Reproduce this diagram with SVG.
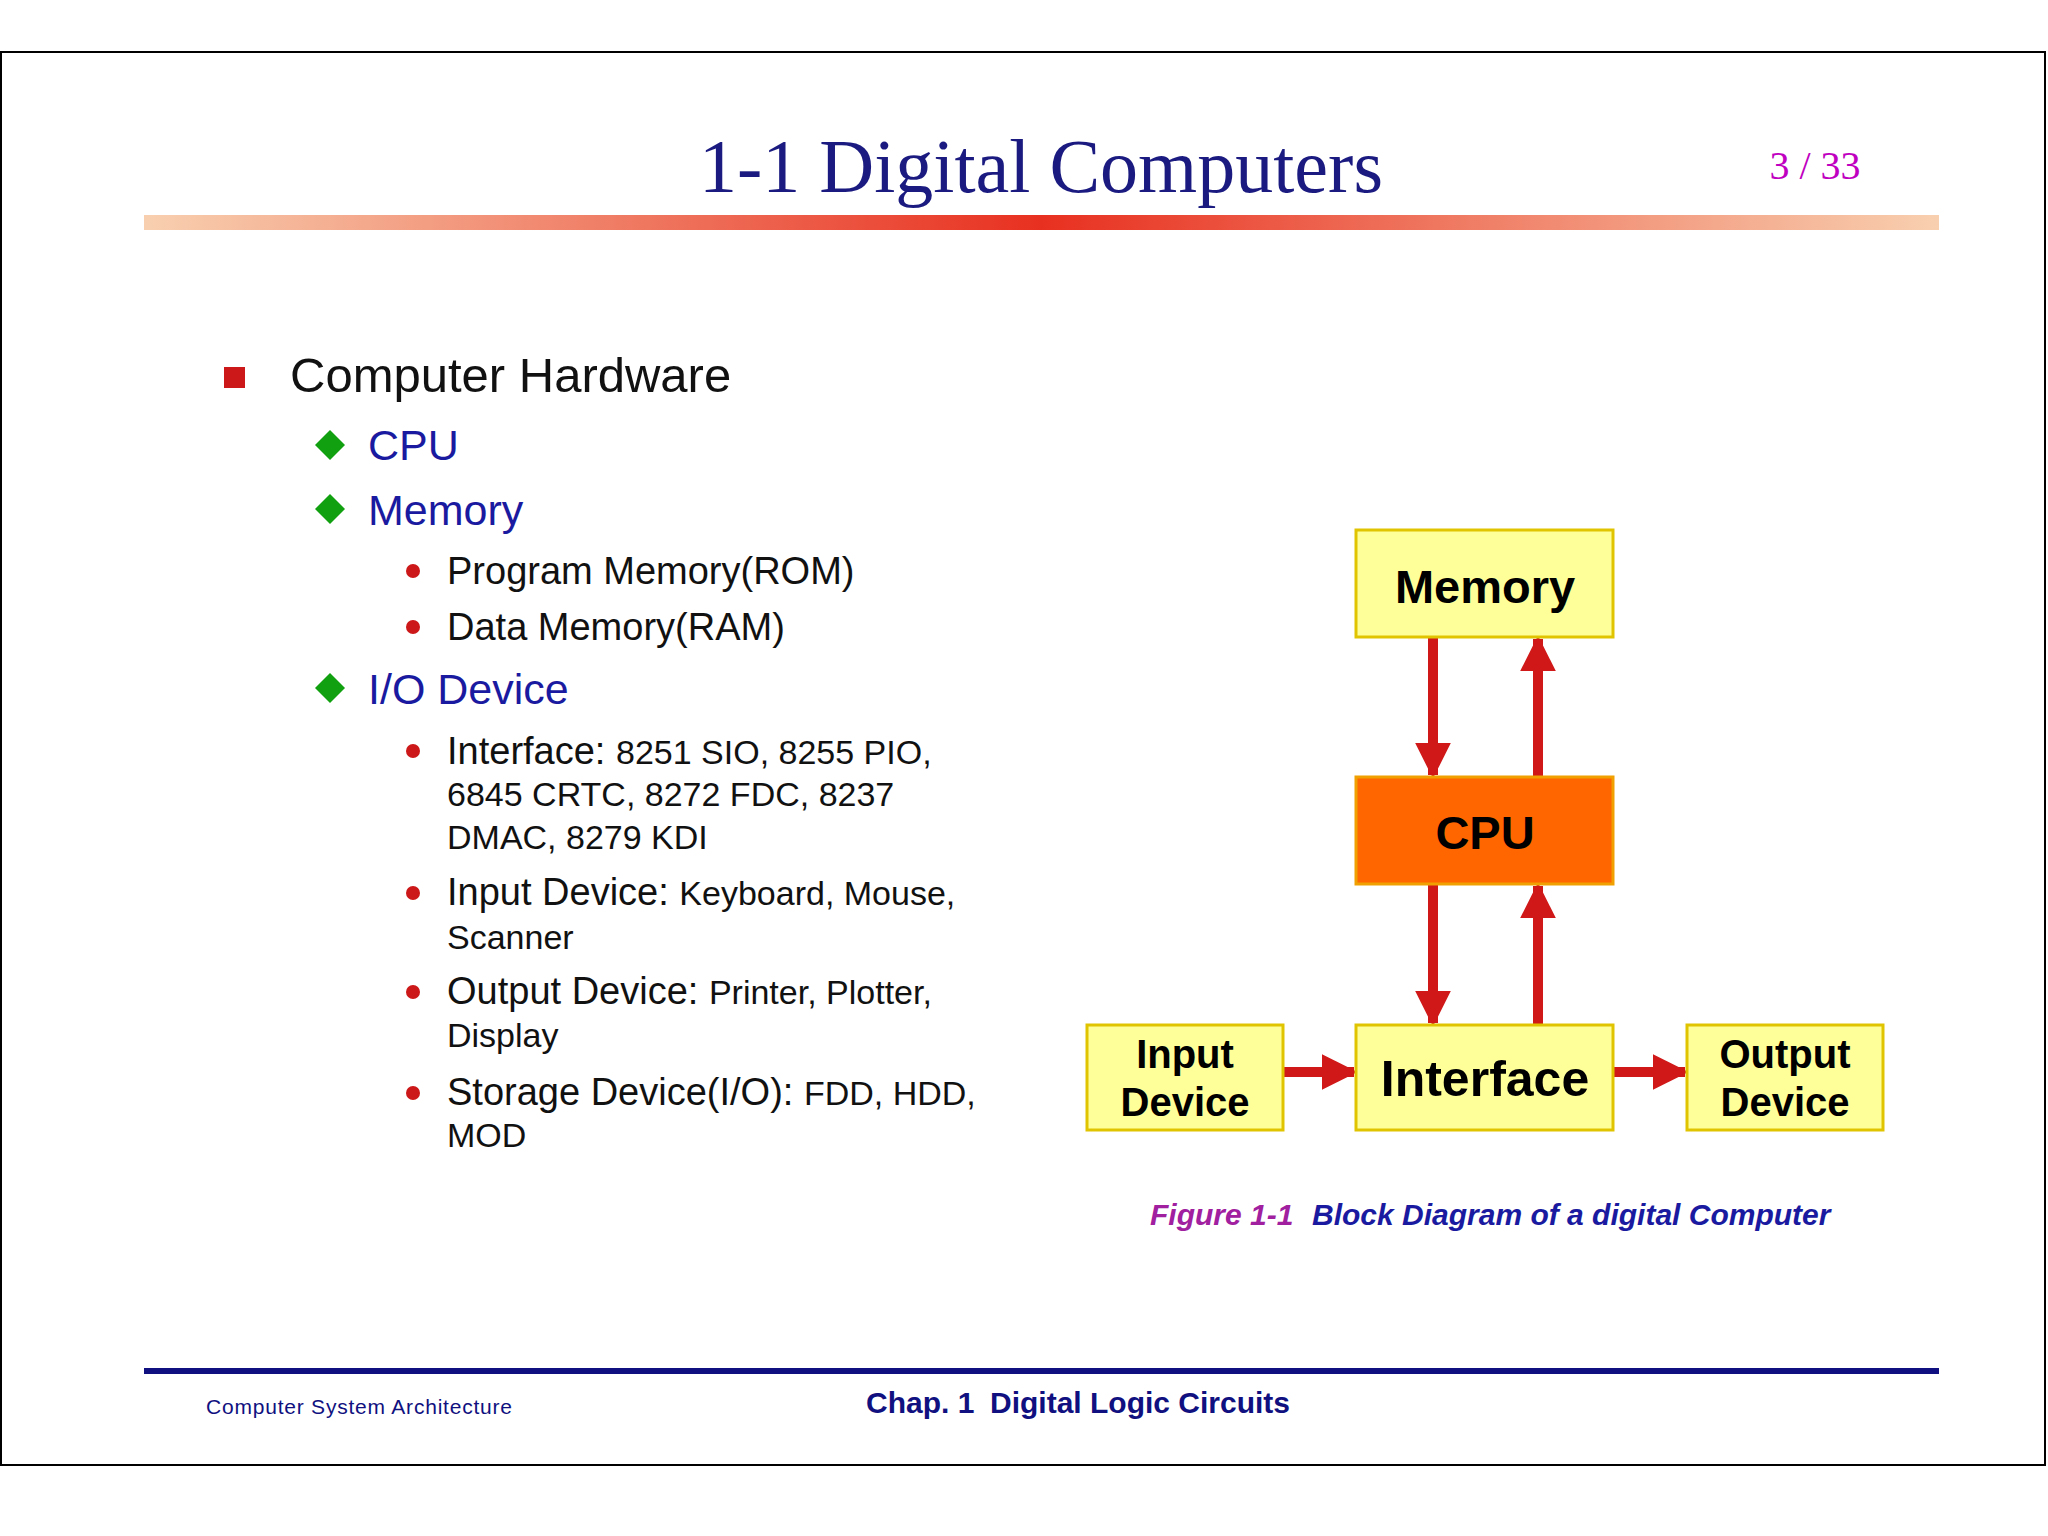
<svg xmlns="http://www.w3.org/2000/svg" width="2048" height="1536" viewBox="0 0 2048 1536">
<defs>
<linearGradient id="bar" x1="0" x2="1" y1="0" y2="0">
<stop offset="0" stop-color="#f8d0b0"/><stop offset="0.5" stop-color="#e83020"/><stop offset="1" stop-color="#f8d0b0"/>
</linearGradient>
<marker id="ah" viewBox="0 0 10 10" refX="9" refY="5" markerWidth="3.6" markerHeight="3.6" markerUnits="strokeWidth" orient="auto">
<path d="M0,0 L10,5 L0,10 z" fill="#d01818"/>
</marker>
<style>
.box{fill:#ffff99;stroke:#e0c400;stroke-width:3}
.lbl{font-family:"Liberation Sans",Arial,sans-serif;font-weight:bold;fill:#000;text-anchor:middle}
.conn{stroke:#d01818;stroke-width:10;fill:none;marker-end:url(#ah)}
.t{font-family:"Liberation Sans",Arial,sans-serif}
</style>
</defs>
<rect x="0" y="0" width="2048" height="1536" fill="#fff"/>
<rect x="1" y="52" width="2044" height="1413" fill="#fff" stroke="#000" stroke-width="2"/>
<text x="1041" y="192" font-family="Liberation Serif,serif" font-size="76" fill="#1a1a80" text-anchor="middle">1-1 Digital Computers</text>
<text x="1815" y="179" font-family="Liberation Serif,serif" font-size="40" fill="#c000c0" text-anchor="middle">3 / 33</text>
<rect x="144" y="215" width="1795" height="15" fill="url(#bar)"/>

<rect x="224" y="367" width="21" height="21" fill="#cc1818"/>
<text class="t" x="290" y="392" font-size="49" fill="#111">Computer Hardware</text>
<g fill="#10a010">
<path d="M330,430 l15,15 l-15,15 l-15,-15z"/>
<path d="M330,494 l15,15 l-15,15 l-15,-15z"/>
<path d="M330,673 l15,15 l-15,15 l-15,-15z"/>
</g>
<g class="t" font-size="43" fill="#1a1aa0">
<text x="368" y="460">CPU</text>
<text x="368" y="525">Memory</text>
<text x="368" y="704">I/O Device</text>
</g>
<g fill="#cc1818">
<circle cx="413" cy="571" r="7"/><circle cx="413" cy="627" r="7"/><circle cx="413" cy="751" r="7"/>
<circle cx="413" cy="893" r="7"/><circle cx="413" cy="992" r="7"/><circle cx="413" cy="1093" r="7"/>
</g>
<g class="t" font-size="38" fill="#111">
<text x="447" y="584">Program Memory(ROM)</text>
<text x="447" y="640">Data Memory(RAM)</text>
<text x="447" y="764">Interface: <tspan font-size="34">8251 SIO, 8255 PIO,</tspan></text>
<text x="447" y="806" font-size="34">6845 CRTC, 8272 FDC, 8237</text>
<text x="447" y="849" font-size="34">DMAC, 8279 KDI</text>
<text x="447" y="905">Input Device: <tspan font-size="34">Keyboard, Mouse,</tspan></text>
<text x="447" y="949" font-size="34">Scanner</text>
<text x="447" y="1004">Output Device: <tspan font-size="34">Printer, Plotter,</tspan></text>
<text x="447" y="1047" font-size="34">Display</text>
<text x="447" y="1105">Storage Device(I/O): <tspan font-size="34">FDD, HDD,</tspan></text>
<text x="447" y="1147" font-size="34">MOD</text>
</g>

<g id="connectors">
<line class="conn" x1="1433" y1="637" x2="1433" y2="775"/>
<line class="conn" x1="1538" y1="777" x2="1538" y2="639"/>
<line class="conn" x1="1433" y1="884" x2="1433" y2="1023"/>
<line class="conn" x1="1538" y1="1025" x2="1538" y2="886"/>
<line class="conn" x1="1283" y1="1072" x2="1354" y2="1072"/>
<line class="conn" x1="1613" y1="1072" x2="1685" y2="1072"/>
</g>
<g id="memory"><rect class="box" x="1356" y="530" width="257" height="107"/><text class="lbl" x="1485" y="603" font-size="47">Memory</text></g>
<g id="cpu"><rect x="1356" y="777" width="257" height="107" fill="#ff6600" stroke="#f0a000" stroke-width="3"/><text class="lbl" x="1485" y="849" font-size="47">CPU</text></g>
<g id="interface"><rect class="box" x="1356" y="1025" width="257" height="105"/><text class="lbl" x="1485" y="1096" font-size="50">Interface</text></g>
<g id="input"><rect class="box" x="1087" y="1025" width="196" height="105"/><text class="lbl" x="1185" y="1068" font-size="40">Input</text><text class="lbl" x="1185" y="1116" font-size="40">Device</text></g>
<g id="output"><rect class="box" x="1687" y="1025" width="196" height="105"/><text class="lbl" x="1785" y="1068" font-size="40">Output</text><text class="lbl" x="1785" y="1116" font-size="40">Device</text></g>

<text class="t" x="1150" y="1225" font-size="30" font-weight="bold" font-style="italic"><tspan fill="#a020a0">Figure 1-1</tspan><tspan x="1312" fill="#1a1aa0">Block Diagram of a digital Computer</tspan></text>

<rect x="144" y="1368" width="1795" height="6" fill="#101080"/>
<text class="t" x="206" y="1414" font-size="21" fill="#101080" textLength="306">Computer System Architecture</text>
<text class="t" x="866" y="1413" font-size="30" font-weight="bold" fill="#101080">Chap. 1<tspan x="990">Digital Logic Circuits</tspan></text>
</svg>
